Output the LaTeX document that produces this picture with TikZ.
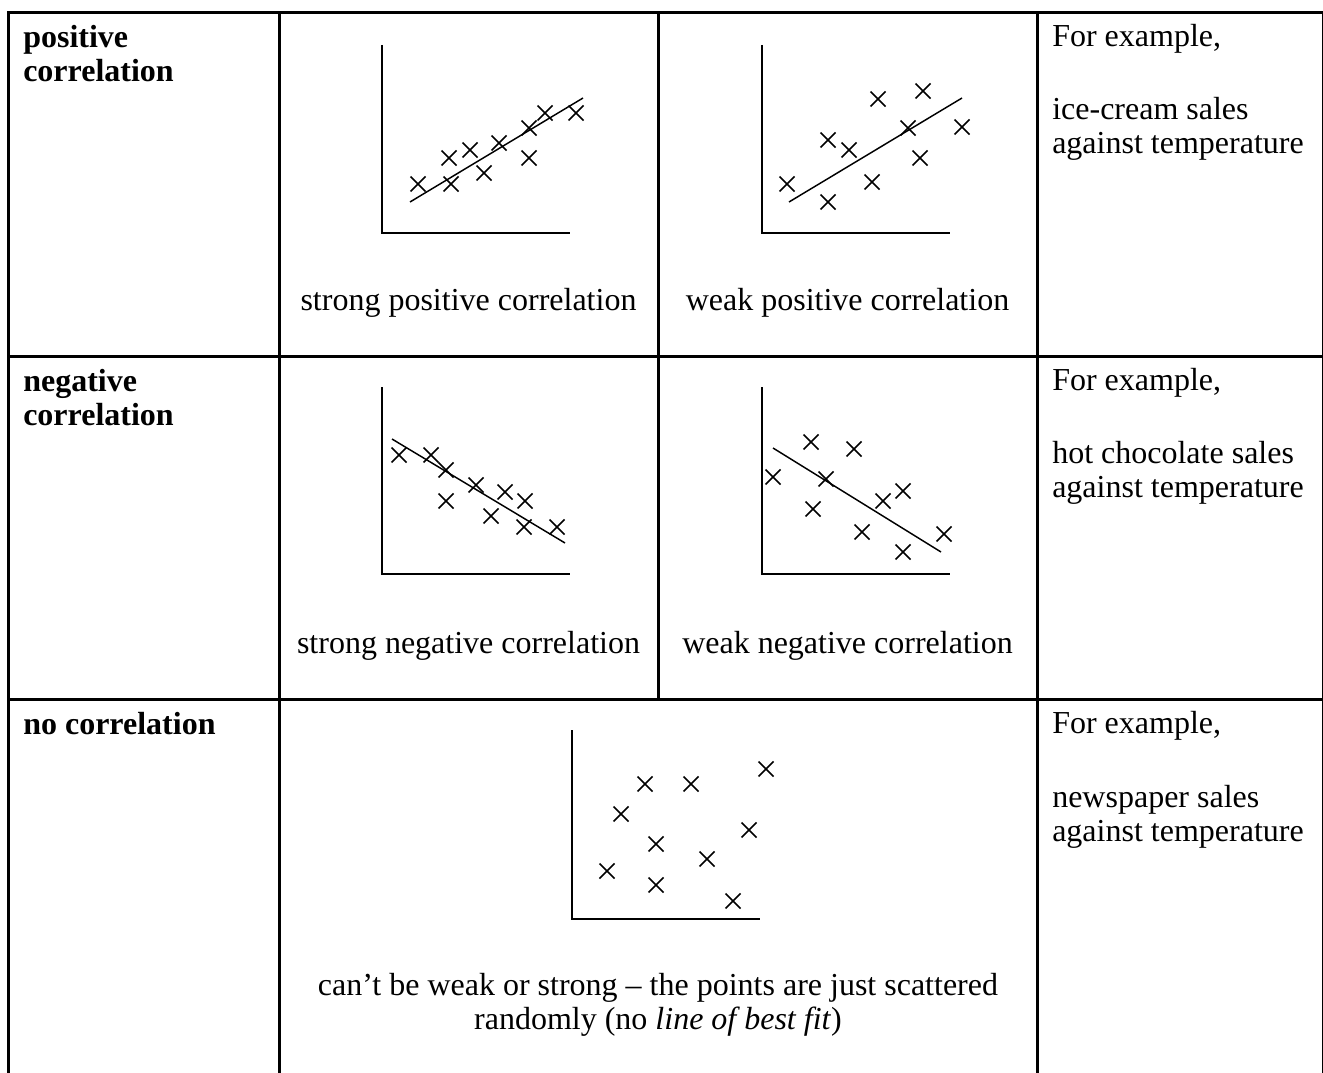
\documentclass[tikz,border=0pt]{standalone}
\usepackage{fontspec}
\setmainfont{Liberation Serif}
\begin{document}
\begin{tikzpicture}[x=0.75pt,y=-0.75pt,
  tbl/.style={line width=2.25pt,line cap=rect},
  axis/.style={line width=1.3pt},
  fit/.style={line width=1.1pt},
  cross/.style={line width=1.1pt},
  txt/.style={inner sep=0pt,font=\fontsize{24}{28}\selectfont},
  lbl/.style={txt,anchor=base west,font=\fontsize{24}{28}\selectfont\bfseries},
  ex/.style={txt,anchor=base west},
  captxt/.style={txt,anchor=base}]
\useasboundingbox (0,0) rectangle (1323,1073);
% table
\draw[tbl] (8,13) -- (1323,13);
\draw[tbl] (8,356) -- (1323,356);
\draw[tbl] (8,699) -- (1323,699);
\draw[tbl] (8,13) -- (8,1073);
\draw[tbl] (279,13) -- (279,1073);
\draw[tbl] (658,13) -- (658,699);
\draw[tbl] (1037,13) -- (1037,1073);
\draw[tbl] (1323,13) -- (1323,1073);
% labels
\node[lbl] (l1a) at (23,48) {positive};
\node[lbl] (l1b) at (23,82) {correlation};
\node[lbl] (l2a) at (23,391) {negative};
\node[lbl] (l2b) at (23,425) {correlation};
\node[lbl] (l3a) at (23,734) {no correlation};
% examples
\node[ex] (e1a) at (1052,47) {For example,};
\node[ex] (e1b) at (1052,120) {ice-cream sales};
\node[ex] (e1c) at (1052,154) {against temperature};
\node[ex] (e2a) at (1052,390) {For example,};
\node[ex] (e2b) at (1052,463) {hot chocolate sales};
\node[ex] (e2c) at (1052,497) {against temperature};
\node[ex] (e3a) at (1052,733) {For example,};
\node[ex] (e3b) at (1052,807) {newspaper sales};
\node[ex] (e3c) at (1052,841) {against temperature};
% captions
\node[captxt] (c1) at (468.5,310) {strong positive correlation};
\node[captxt] (c2) at (847.5,310) {weak positive correlation};
\node[captxt] (c3) at (468.5,653) {strong negative correlation};
\node[captxt] (c4) at (847.5,653) {weak negative correlation};
\node[captxt] (c5a) at (658,995) {can’t be weak or strong – the points are just scattered};
\node[captxt] (c5b) at (658,1029) {randomly (no \textit{line of best fit})};
% plot 1
\draw[axis] (382,45) -- (382,233) -- (570,233);
\draw[fit] (410,202) -- (583,98);
\foreach \p in {(418,184),(449,158),(451,184),(470,150),(484,173),(499,143),(529,128),(529,158),(545,113),(576,113)}
  \draw[cross] \p +(-7.5,-7.5) -- +(7.5,7.5) \p +(-7.5,7.5) -- +(7.5,-7.5);
% plot 2
\draw[axis] (762,45) -- (762,233) -- (950,233);
\draw[fit] (789,202) -- (962,98);
\foreach \p in {(787,184),(828,140),(828,202),(849,150),(872,182),(878,99),(908,128),(920,158),(923,91),(962,127)}
  \draw[cross] \p +(-7.5,-7.5) -- +(7.5,7.5) \p +(-7.5,7.5) -- +(7.5,-7.5);
% plot 3
\draw[axis] (382,387) -- (382,574) -- (570,574);
\draw[fit] (392,439) -- (565,543);
\foreach \p in {(399,455),(431,455),(446,470),(446,501),(476,485),(491,516),(505,492),(525,501),(524,527),(557,527)}
  \draw[cross] \p +(-7.5,-7.5) -- +(7.5,7.5) \p +(-7.5,7.5) -- +(7.5,-7.5);
% plot 4
\draw[axis] (762,387) -- (762,574) -- (950,574);
\draw[fit] (773,448) -- (941,552);
\foreach \p in {(773,477),(811,442),(813,509),(826,479),(854,449),(862,532),(883,501),(903,491),(903,552),(944,534)}
  \draw[cross] \p +(-7.5,-7.5) -- +(7.5,7.5) \p +(-7.5,7.5) -- +(7.5,-7.5);
% plot 5
\draw[axis] (572,730) -- (572,919) -- (760,919);
\foreach \p in {(607,871),(621,814),(645,784),(656,844),(656,885),(691,784),(707,859),(733,901),(749,830),(766,769)}
  \draw[cross] \p +(-7.5,-7.5) -- +(7.5,7.5) \p +(-7.5,7.5) -- +(7.5,-7.5);
\end{tikzpicture}
\end{document}
